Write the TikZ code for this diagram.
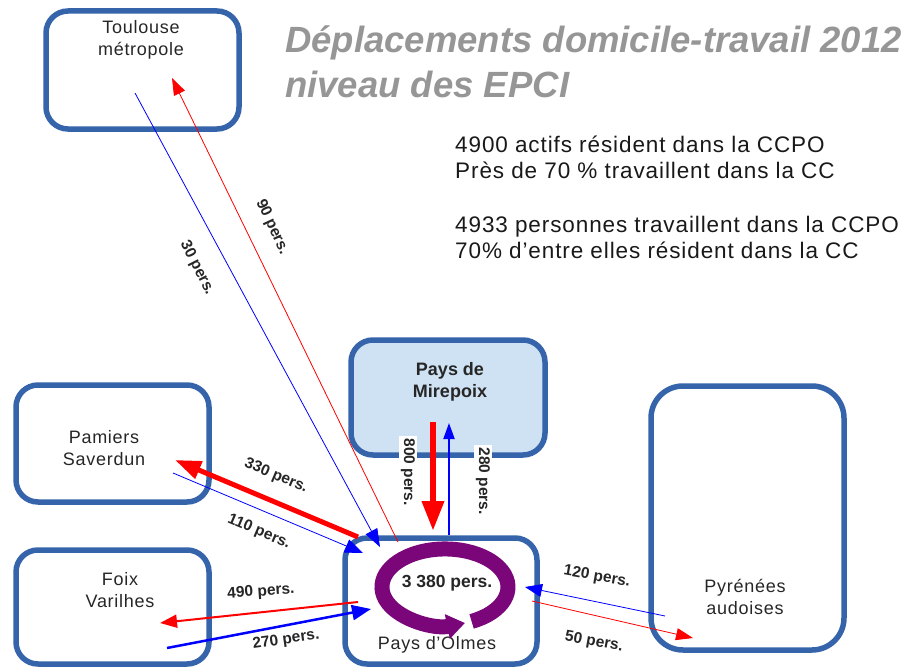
\documentclass[tikz,border=0pt]{standalone}
\usepackage{fontspec}
\setmainfont{Liberation Sans}
\usetikzlibrary{arrows.meta}

\definecolor{zoneblue}{RGB}{54,100,170}
\definecolor{zonefill}{RGB}{207,226,243}
\definecolor{ringpurple}{RGB}{122,6,122}
\definecolor{titlegray}{RGB}{150,150,150}

\begin{document}
\begin{tikzpicture}[x=1pt,y=-1pt,
  zone/.style={draw=zoneblue, line width=5.5pt, rounded corners=22pt, inner sep=0pt},
  place/.style={font=\fontsize{18}{21.5}\selectfont\addfontfeatures{LetterSpace=4}, align=center, text=black!85},
  flow/.style={font=\bfseries\fontsize{15.5}{18}\selectfont, text=black!85},
  outflow/.style={red, line width=0.8pt, -{Triangle[length=17pt,width=12pt]}},
  inflow/.style={blue, line width=0.8pt, -{Triangle[length=17pt,width=13pt]}},
  stats/.style={font=\fontsize{22.5}{26}\selectfont\addfontfeatures{LetterSpace=4}, anchor=base west, inner sep=0pt, text=black!90},
  heading/.style={font=\bfseries\itshape\fontsize{36.5}{44}\selectfont, anchor=base west, inner sep=0pt, text=titlegray}
]
  \useasboundingbox (0,0) rectangle (908,669);

  % zones
  \node[zone, minimum width=193pt, minimum height=118pt] (toulouse) at (142.5,70) {};
  \node[zone, fill=zonefill, minimum width=194pt, minimum height=115pt] (mirepoix) at (448,397.5) {};
  \node[zone, minimum width=193pt, minimum height=117pt] (pamiers) at (112.5,443.5) {};
  \node[zone, minimum width=193pt, minimum height=114pt] (foix) at (112.5,607) {};
  \node[zone, minimum width=192pt, minimum height=126pt] (olmes) at (441,601) {};
  \node[zone, rounded corners=32pt, minimum width=193pt, minimum height=264pt] (audoises) at (747.5,518) {};

  \node[place] (toulouse-lbl) at (141,40) {Toulouse\\métropole};
  \node[place, font=\bfseries\fontsize{18}{21.5}\selectfont] (mirepoix-lbl) at (450,382) {Pays de\\Mirepoix};
  \node[place] (pamiers-lbl) at (104,448) {Pamiers\\Saverdun};
  \node[place] (foix-lbl) at (120,590) {Foix\\Varilhes};
  \node[place] (audoises-lbl) at (745,597) {Pyrénées\\audoises};
  \node[place] (olmes-lbl) at (437,645) {Pays d’Olmes};

  % title and figures
  \node[heading] (title-a) at (285,53) {Déplacements domicile-travail 2012};
  \node[heading] (title-b) at (285,97) {niveau des EPCI};
  \foreach \yy/\txt [count=\i] in {152/4900 actifs résident dans la CCPO,
      178/Près de 70 \%  travaillent dans la CC,
      232/4933 personnes travaillent dans la CCPO,
      258/70\% d’entre elles résident dans la CC}
    \node[stats] (stats-\i) at (455,\yy) {\txt};

  % ends of the flows
  \coordinate (tou-in) at (172,78);   \coordinate (tou-out) at (135,93);
  \coordinate (olm-tou-a) at (398,542); \coordinate (olm-tou-b) at (380,547);
  \coordinate (pam-in) at (175,460);  \coordinate (pam-out) at (173,473);
  \coordinate (olm-pam-a) at (358,537); \coordinate (olm-pam-b) at (363,553);
  \coordinate (foi-in) at (160,623);  \coordinate (foi-out) at (167,648);
  \coordinate (olm-foi-a) at (358,602); \coordinate (olm-foi-b) at (371,609);
  \coordinate (mir-out) at (433,422); \coordinate (mir-in) at (449,423);
  \coordinate (olm-mir-a) at (433,531); \coordinate (olm-mir-b) at (449,535);
  \coordinate (aud-in) at (693,638);  \coordinate (aud-out) at (665,616);
  \coordinate (olm-aud-a) at (532,601); \coordinate (olm-aud-b) at (525,587);

  % flows
  \draw[outflow] (olm-tou-a) -- (tou-in);
  \draw[inflow, -{Triangle[length=18pt,width=13pt]}] (tou-out) -- (olm-tou-b);
  \draw[red, line width=5pt, -{Triangle[length=26pt,width=18pt]}] (olm-pam-a) -- (pam-in);
  \draw[inflow, -{Triangle[length=18pt,width=14pt]}] (pam-out) -- (olm-pam-b);
  \draw[red, line width=2pt, -{Triangle[length=17pt,width=13pt]}] (olm-foi-a) -- (foi-in);
  \draw[blue, line width=2.5pt, -{Triangle[length=19pt,width=15pt]}] (foi-out) -- (olm-foi-b);
  \draw[red, line width=6.5pt, -{Triangle[length=30pt,width=21pt]}] (mir-out) -- (olm-mir-a);
  \draw[blue, line width=2pt, -{Triangle[length=16pt,width=11pt]}] (olm-mir-b) -- (mir-in);
  \draw[inflow] (aud-out) -- (olm-aud-b);
  \draw[outflow] (olm-aud-a) -- (aud-in);

  % flow inside the CC
  \draw[ringpurple, line width=15pt, -{Triangle[length=18pt,width=24pt]}]
    (471.6,621.4) arc[start angle=-65, end angle=288.5, x radius=63pt, y radius=38pt];
  \node[flow, font=\bfseries\fontsize{17.5}{20}\selectfont] (inner) at (447,583) {3 380 pers.};

  \node[flow, rotate=-65] (lbl-90) at (272,227) {90 pers.};
  \node[flow, rotate=-63] (lbl-30) at (197,268) {30 pers.};
  \node[flow, rotate=-23] (lbl-330) at (276,476) {330 pers.};
  \node[flow, rotate=-23] (lbl-110) at (259,532) {110 pers.};
  \node[flow, rotate=4] (lbl-490) at (261,592) {490 pers.};
  \node[flow, rotate=8] (lbl-270) at (286,640) {270 pers.};
  \node[flow, rotate=-90, fill=white, inner sep=2pt] (lbl-800) at (408,472) {800 pers.};
  \node[flow, rotate=-90, fill=white, inner sep=2pt] (lbl-280) at (483,481) {280 pers.};
  \node[flow, rotate=-10] (lbl-120) at (597,577) {120 pers.};
  \node[flow, rotate=-10] (lbl-50) at (594,642) {50 pers.};
\end{tikzpicture}
\end{document}
